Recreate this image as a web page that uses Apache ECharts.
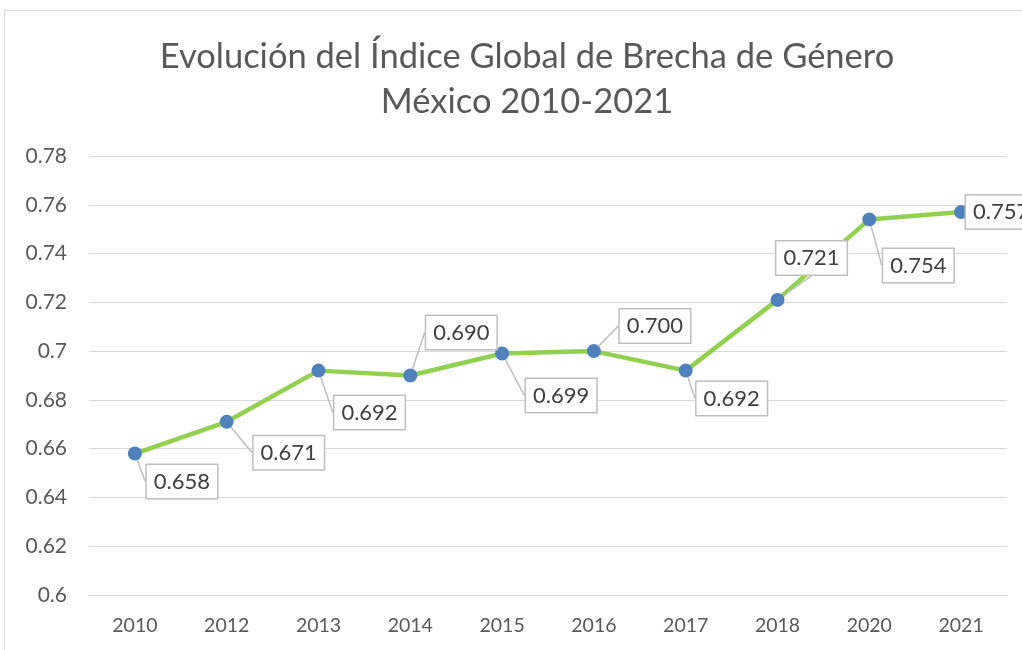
<!DOCTYPE html>
<html>
<head>
<meta charset="utf-8">
<script src="https://cdn.jsdelivr.net/npm/echarts@6/dist/echarts.min.js"></script>
<style>
  html, body { margin: 0; padding: 0; background: #fff; }
  #chart { width: 1022px; height: 650px; }
</style>
</head>
<body>
<div id="chart"></div>
<script>
// datos
var years = ['2010', '2012', '2013', '2014', '2015', '2016', '2017', '2018', '2020', '2021'];
var indice = [0.658, 0.671, 0.692, 0.690, 0.699, 0.700, 0.692, 0.721, 0.754, 0.757];
var yTicks = [0.6, 0.62, 0.64, 0.66, 0.68, 0.7, 0.72, 0.74, 0.76, 0.78];

// desplazamiento de cada etiqueta respecto a su punto
var labelOffsets = [
    [47, 28], [62, 31], [51, 42], [51, -43], [59, 42],
    [61, -25], [46, 28], [34, -42], [49, 46], [40, 0]
];

var chart = echarts.init(document.getElementById('chart'));
chart.setOption({
    animation: false,
    graphic: [{
        type: 'rect',
        shape: { x: 4.5, y: 10.5, width: 1040, height: 700 },
        style: { fill: 'none', stroke: '#d9d9d9', lineWidth: 1 },
        silent: true
    }],
    title: {
        text: 'Evolución del Índice Global de Brecha de Género\nMéxico 2010-2021',
        left: 522,
        top: 29,
        textAlign: 'center',
        textStyle: {
            fontFamily: 'Lato',
            fontWeight: 'normal',
            fontSize: 34.5,
            lineHeight: 45,
            color: '#595959'
        }
    },
    grid: {
        left: 89,
        right: 15,
        top: 156,
        bottom: 55
    },
    xAxis: {
        type: 'category',
        data: years,
        axisLine: { lineStyle: { color: '#d9d9d9', width: 1 } },
        axisTick: { show: false },
        axisLabel: {
            color: '#595959',
            fontFamily: 'Lato',
            fontSize: 19.5,
            margin: 21
        }
    },
    yAxis: {
        type: 'value',
        min: yTicks[0],
        max: yTicks[yTicks.length - 1],
        interval: 0.02,
        axisLine: { show: false },
        axisTick: { show: false },
        splitLine: { lineStyle: { color: '#d9d9d9', width: 1 } },
        axisLabel: {
            color: '#595959',
            fontFamily: 'Lato',
            fontSize: 21,
            margin: 22,
            formatter: function (v) {
                return String(Math.round(v * 100) / 100);
            }
        }
    },
    series: [{
        type: 'line',
        data: indice,
        symbol: 'circle',
        symbolSize: 14,
        lineStyle: { color: '#92d050', width: 4.5 },
        itemStyle: { color: '#4f81bd' },
        z: 3,
        label: {
            show: true,
            position: 'inside',
            formatter: function (p) { return p.value.toFixed(3); },
            fontFamily: 'Lato',
            fontSize: 22,
            color: '#404040',
            backgroundColor: '#fff',
            borderColor: '#bfbfbf',
            borderWidth: 1.5,
            padding: [6, 7, 5, 7]
        },
        labelLine: {
            show: true,
            lineStyle: { color: '#bfbfbf', width: 1.5 }
        },
        labelLayout: function (params) {
            var o = labelOffsets[params.dataIndex];
            return { dx: o[0], dy: o[1] };
        }
    }]
});
</script>
</body>
</html>
